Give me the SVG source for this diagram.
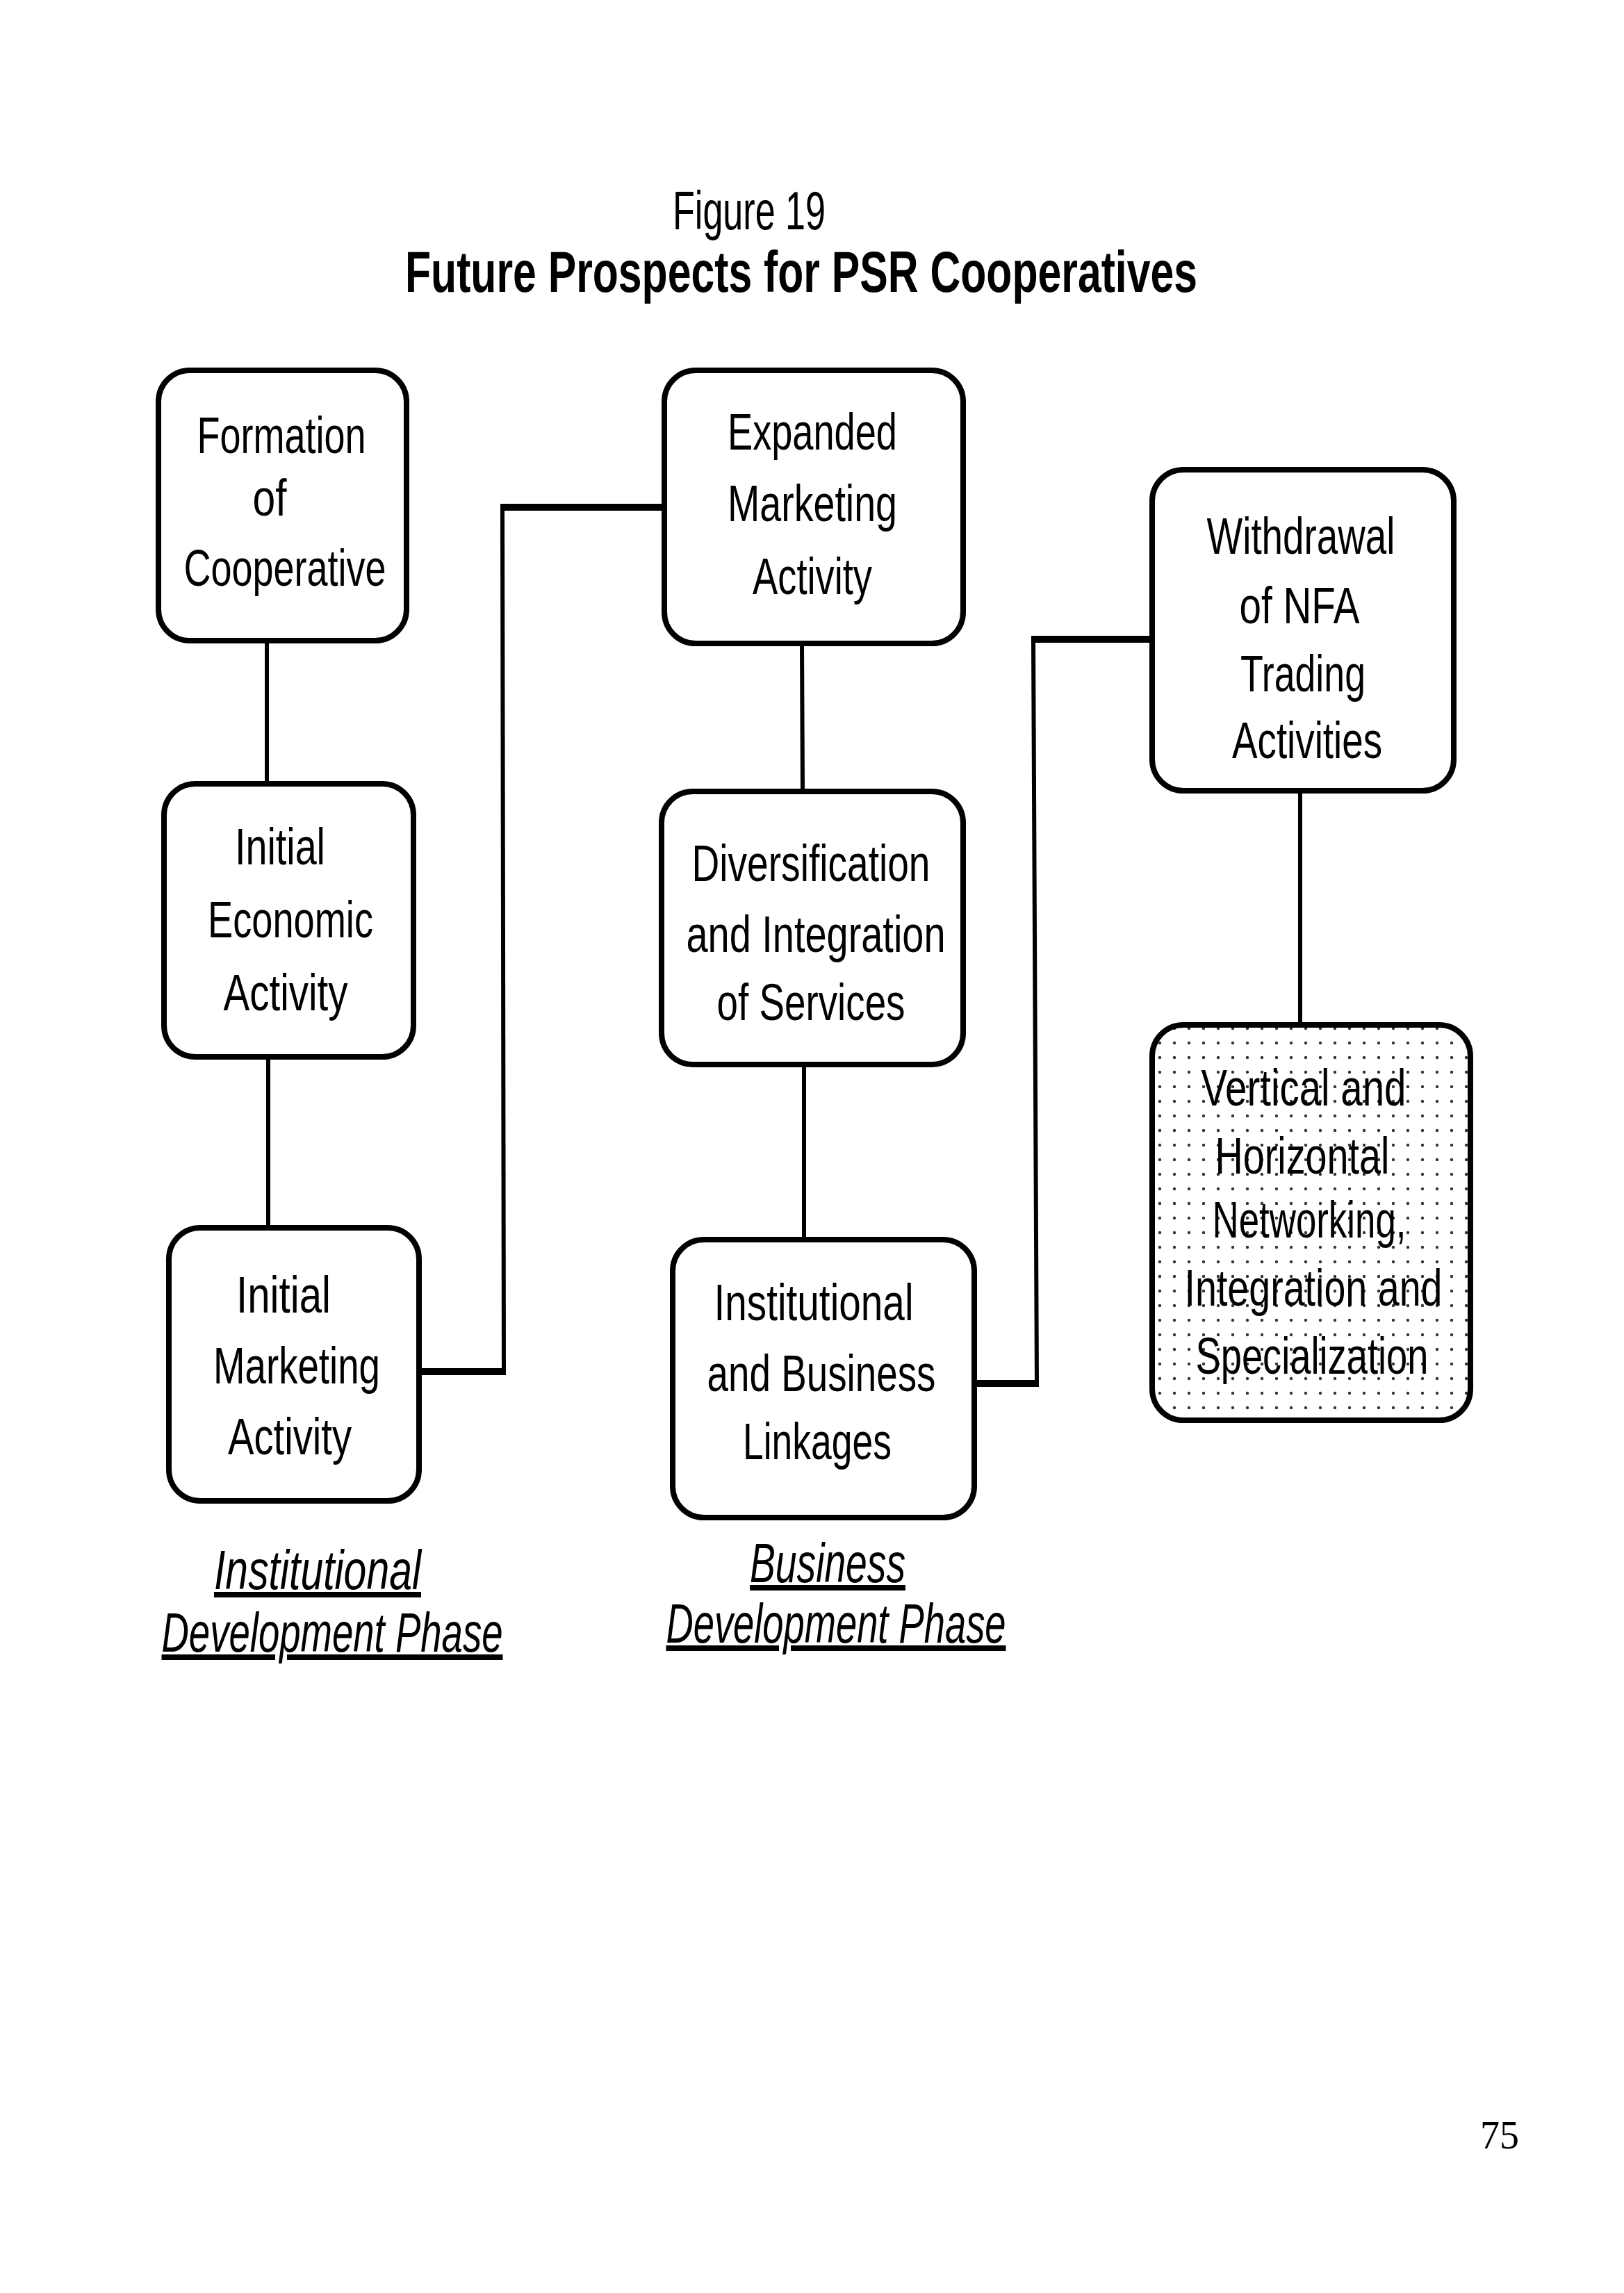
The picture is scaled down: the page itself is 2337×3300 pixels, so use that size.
<svg xmlns="http://www.w3.org/2000/svg" width="2337" height="3300" viewBox="0 0 2337 3300">
<style>
.box{fill:#fff;stroke:#000;stroke-width:8}
.dot{stroke:#000;stroke-width:8}
.t{font-family:"Liberation Sans",Arial,sans-serif;font-size:74px;text-anchor:middle;fill:#000}
.ph{font-family:"Liberation Sans",Arial,sans-serif;font-size:80px;font-style:italic;text-anchor:middle;fill:#000;text-decoration:underline}
.v{stroke:#000;stroke-width:6;fill:none}
.h{stroke:#000;stroke-width:10;fill:none}
</style>
<defs>
<pattern id="dots" width="21" height="21" patternUnits="userSpaceOnUse">
<rect width="21" height="21" fill="#fff"/>
<circle cx="10" cy="10" r="2.2" fill="#333"/>
</pattern>
</defs>
<rect width="2337" height="3300" fill="#fff"/>
<g id="title">
<text x="1078" y="330" font-family="Liberation Sans,Arial,sans-serif" font-size="78" text-anchor="middle" textLength="220" lengthAdjust="spacingAndGlyphs">Figure 19</text>
<text x="1153" y="420" font-family="Liberation Sans,Arial,sans-serif" font-size="84" font-weight="bold" text-anchor="middle" textLength="1140" lengthAdjust="spacingAndGlyphs">Future Prospects for PSR Cooperatives</text>
</g>
<g id="connectors">
<line class="v" x1="384" y1="922" x2="384" y2="1128"/>
<line class="v" x1="386" y1="1521" x2="386" y2="1767"/>
<line class="v" x1="1154" y1="926" x2="1155" y2="1139"/>
<line class="v" x1="1157" y1="1532" x2="1157" y2="1784"/>
<line class="v" x1="1871" y1="1138" x2="1871" y2="1475"/>
<polyline class="v" points="725,1974 723,730"/>
<polyline class="h" points="603,1974 728,1974"/>
<polyline class="h" points="720,730 956,730"/>
<polyline class="v" points="1492,1991 1487,920"/>
<polyline class="h" points="1402,1991 1495,1991"/>
<polyline class="h" points="1484,920 1658,920"/>
</g>
<g id="formation">
<rect class="box" x="228" y="533" width="357" height="389" rx="45"/>
<text class="t" x="405" y="652" textLength="243" lengthAdjust="spacingAndGlyphs">Formation</text>
<text class="t" x="388" y="742" textLength="49" lengthAdjust="spacingAndGlyphs">of</text>
<text class="t" x="410" y="843" textLength="291" lengthAdjust="spacingAndGlyphs">Cooperative</text>
</g>
<g id="initial-economic">
<rect class="box" x="236" y="1128" width="359" height="393" rx="45"/>
<text class="t" x="403" y="1244" textLength="130" lengthAdjust="spacingAndGlyphs">Initial</text>
<text class="t" x="418" y="1349" textLength="238" lengthAdjust="spacingAndGlyphs">Economic</text>
<text class="t" x="411" y="1454" textLength="179" lengthAdjust="spacingAndGlyphs">Activity</text>
</g>
<g id="initial-marketing">
<rect class="box" x="243" y="1767" width="360" height="393" rx="45"/>
<text class="t" x="408" y="1889" textLength="136" lengthAdjust="spacingAndGlyphs">Initial</text>
<text class="t" x="427" y="1991" textLength="240" lengthAdjust="spacingAndGlyphs">Marketing</text>
<text class="t" x="417" y="2093" textLength="178" lengthAdjust="spacingAndGlyphs">Activity</text>
</g>
<g id="expanded">
<rect class="box" x="956" y="533" width="430" height="393" rx="45"/>
<text class="t" x="1169" y="647" textLength="244" lengthAdjust="spacingAndGlyphs">Expanded</text>
<text class="t" x="1169" y="750" textLength="244" lengthAdjust="spacingAndGlyphs">Marketing</text>
<text class="t" x="1169" y="855" textLength="172" lengthAdjust="spacingAndGlyphs">Activity</text>
</g>
<g id="diversification">
<rect class="box" x="952" y="1139" width="434" height="393" rx="45"/>
<text class="t" x="1167" y="1268" textLength="343" lengthAdjust="spacingAndGlyphs">Diversification</text>
<text class="t" x="1174" y="1370" textLength="373" lengthAdjust="spacingAndGlyphs">and Integration</text>
<text class="t" x="1167" y="1468" textLength="271" lengthAdjust="spacingAndGlyphs">of Services</text>
</g>
<g id="institutional-business">
<rect class="box" x="968" y="1784" width="434" height="400" rx="45"/>
<text class="t" x="1171" y="1900" textLength="287" lengthAdjust="spacingAndGlyphs">Institutional</text>
<text class="t" x="1182" y="2002" textLength="329" lengthAdjust="spacingAndGlyphs">and Business</text>
<text class="t" x="1176" y="2100" textLength="214" lengthAdjust="spacingAndGlyphs">Linkages</text>
</g>
<g id="withdrawal">
<rect class="box" x="1658" y="676" width="434" height="462" rx="45"/>
<text class="t" x="1872" y="797" textLength="271" lengthAdjust="spacingAndGlyphs">Withdrawal</text>
<text class="t" x="1870" y="897" textLength="173" lengthAdjust="spacingAndGlyphs">of NFA</text>
<text class="t" x="1875" y="995" textLength="180" lengthAdjust="spacingAndGlyphs">Trading</text>
<text class="t" x="1881" y="1091" textLength="216" lengthAdjust="spacingAndGlyphs">Activities</text>
</g>
<g id="networking">
<rect class="box" x="1658" y="1475" width="458" height="569" rx="45" fill="url(#dots)" style="fill:url(#dots)"/>
<text class="t" x="1876" y="1591" textLength="295" lengthAdjust="spacingAndGlyphs">Vertical and</text>
<text class="t" x="1874" y="1689" textLength="251" lengthAdjust="spacingAndGlyphs">Horizontal</text>
<text class="t" x="1884" y="1781" textLength="279" lengthAdjust="spacingAndGlyphs">Networking,</text>
<text class="t" x="1890" y="1879" textLength="371" lengthAdjust="spacingAndGlyphs">Integration and</text>
<text class="t" x="1888" y="1977" textLength="335" lengthAdjust="spacingAndGlyphs">Specialization</text>
</g>
<g id="phase-labels">
<text class="ph" x="457" y="2287" textLength="298" lengthAdjust="spacingAndGlyphs">Institutional</text>
<text class="ph" x="478" y="2377" textLength="491" lengthAdjust="spacingAndGlyphs">Development Phase</text>
<text class="ph" x="1191" y="2277" textLength="224" lengthAdjust="spacingAndGlyphs">Business</text>
<text class="ph" x="1203" y="2364" textLength="489" lengthAdjust="spacingAndGlyphs">Development Phase</text>
</g>
<text x="2158" y="3092" font-family="Liberation Serif,Times New Roman,serif" font-size="56" text-anchor="middle">75</text>
</svg>
